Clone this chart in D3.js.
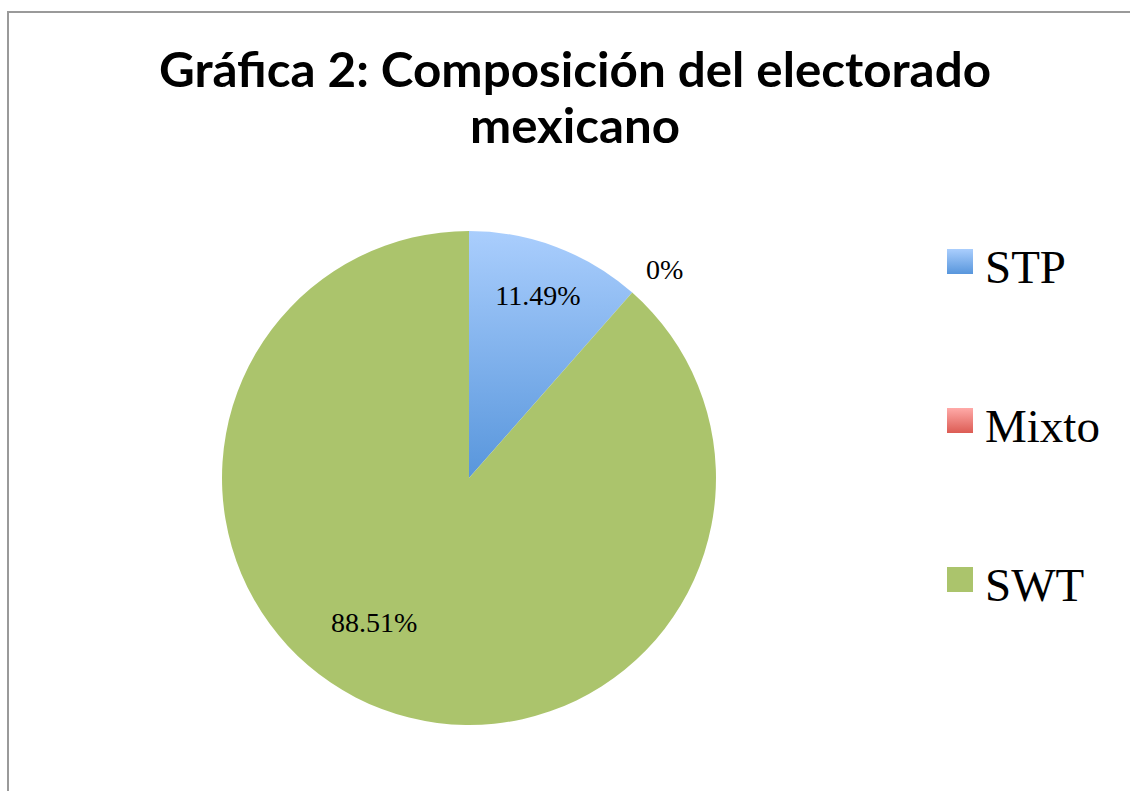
<!DOCTYPE html>
<html>
<head>
<meta charset="utf-8">
<script src="https://cdn.jsdelivr.net/npm/d3@7"></script>
<style>
  html, body { margin: 0; padding: 0; background: #fff; overflow: hidden; }
  svg { display: block; }
</style>
</head>
<body>
<svg id="chart"></svg>
<script>
const categories = ["STP", "Mixto", "SWT"];
const values = [11.49, 0, 88.51];
const labels = ["11.49%", "0%", "88.51%"];
const titleLines = ["Gráfica 2: Composición del electorado", "mexicano"];

const width = 1130;
const height = 791;

const svg = d3.select("#chart")
	.attr("width", width)
	.attr("height", height);

// gradients like the office fills
const defs = svg.append("defs");
const fills = [
	{ id: "gSTP", top: "#aacefd", bottom: "#5896dc" },
	{ id: "gMixto", top: "#ffaaa8", bottom: "#dc5c54" },
	{ id: "gSWT", top: "#abc46c", bottom: "#abc46c" }
];
fills.forEach(f => {
	const g = defs.append("linearGradient")
		.attr("id", f.id)
		.attr("x1", 0).attr("y1", 0).attr("x2", 0).attr("y2", 1);
	g.append("stop").attr("offset", "0%").attr("stop-color", f.top);
	g.append("stop").attr("offset", "100%").attr("stop-color", f.bottom);
});

// chart frame (only top and left edges are in view)
svg.append("rect")
	.attr("x", 7).attr("y", 11)
	.attr("width", width).attr("height", 2)
	.attr("fill", "#9a9a9a");
svg.append("rect")
	.attr("x", 7).attr("y", 11)
	.attr("width", 2).attr("height", height)
	.attr("fill", "#9a9a9a");

// title
const title = svg.append("text")
	.attr("text-anchor", "middle")
	.attr("font-family", "Lato, sans-serif")
	.attr("font-weight", "bold")
	.attr("font-size", 48)
	.attr("fill", "#000");
const titleWidths = [832, 210];
titleLines.forEach((t, i) => {
	title.append("tspan")
		.attr("x", 575)
		.attr("y", 87 + i * 56)
		.attr("textLength", titleWidths[i])
		.attr("lengthAdjust", "spacingAndGlyphs")
		.text(t);
});

// pie
const cx = 469, cy = 478, radius = 247;
const pie = d3.pie().sort(null).value(d => d);
const arcs = pie(values);
const arc = d3.arc().innerRadius(0).outerRadius(radius);

const g = svg.append("g").attr("transform", `translate(${cx},${cy})`);

g.selectAll("path.slice")
	.data(arcs)
	.join("path")
	.attr("class", "slice")
	.attr("d", arc)
	.attr("fill", (d, i) => `url(#${fills[i].id})`);

// data labels: inside for slices, outside for the empty one
const labelR = [0.79, 1.16, 0.70];
const labelNudge = [0, 0.03, 0.22]; // radians
g.selectAll("text.lbl")
	.data(arcs)
	.join("text")
	.attr("class", "lbl")
	.attr("transform", (d, i) => {
		const a = (d.startAngle + d.endAngle) / 2 + labelNudge[i];
		const r = radius * labelR[i];
		return `translate(${Math.sin(a) * r},${-Math.cos(a) * r})`;
	})
	.attr("text-anchor", "middle")
	.attr("dy", "0.35em")
	.attr("font-family", "'Liberation Serif', serif")
	.attr("font-size", 28)
	.attr("fill", "#000")
	.text((d, i) => labels[i]);

// legend
const legendY = d3.scalePoint().domain(categories).range([262, 580]);
const legend = svg.append("g");
const item = legend.selectAll("g")
	.data(categories)
	.join("g")
	.attr("transform", d => `translate(947,${legendY(d)})`);
item.append("rect")
	.attr("x", 0).attr("y", -13)
	.attr("width", 26).attr("height", 25)
	.attr("fill", (d, i) => `url(#${fills[i].id})`);
item.append("text")
	.attr("x", 38)
	.attr("y", 21)
	.attr("font-family", "'Liberation Serif', serif")
	.attr("font-size", 47)
	.attr("fill", "#000")
	.text(d => d);
</script>
</body>
</html>
